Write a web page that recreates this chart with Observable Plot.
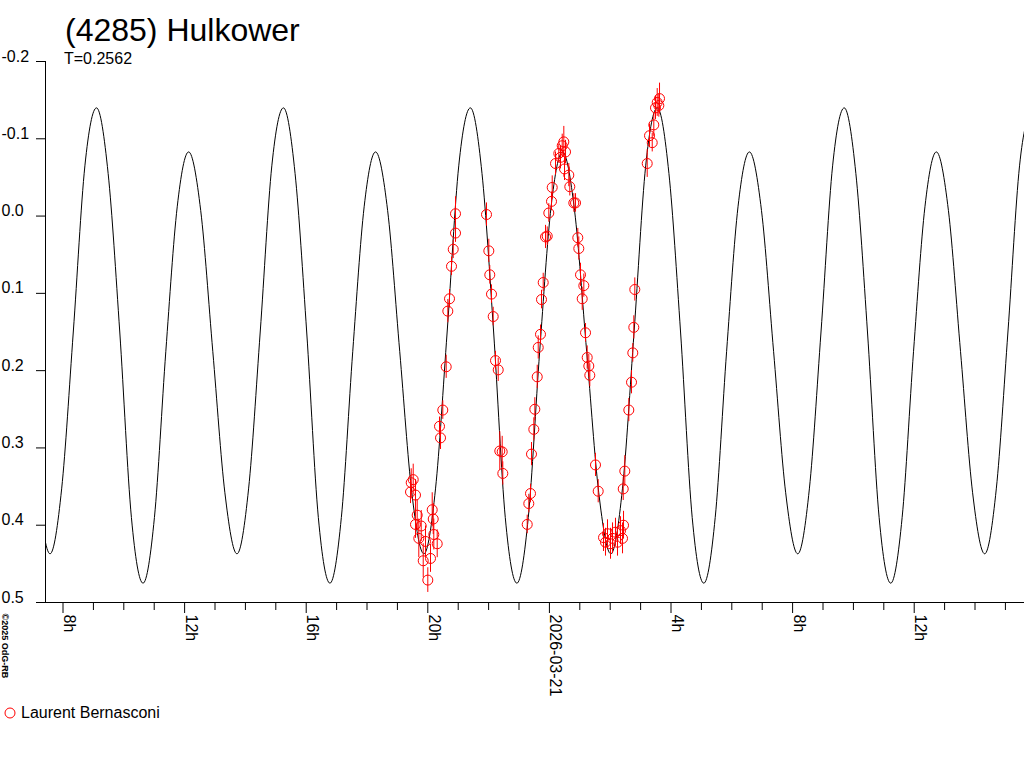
<!DOCTYPE html>
<html><head><meta charset="utf-8">
<script src="https://cdn.jsdelivr.net/npm/d3@7"></script>
<script src="https://cdn.jsdelivr.net/npm/@observablehq/plot@0.6"></script>
<style>
html,body{margin:0;padding:0;background:#fff;}
#wrap{position:relative;width:1024px;height:768px;overflow:hidden;font-family:"Liberation Sans",Arial,sans-serif;color:#000;background:#fff;}
#chart{position:absolute;left:0;top:0;}
#title{position:absolute;left:65px;top:14px;font-size:32px;line-height:32px;white-space:nowrap;}
#subtitle{position:absolute;left:64px;top:51px;font-size:16px;line-height:16px;white-space:nowrap;}
#legend-mark{position:absolute;left:4px;top:707px;}
#legend-text{position:absolute;left:21px;top:705px;font-size:16px;line-height:16px;white-space:nowrap;}
</style></head>
<body>
<div id="wrap">
  <div id="chart"></div>
  <div id="title"></div>
  <div id="subtitle"></div>
  <svg id="legend-mark" width="12" height="12"><circle cx="6" cy="6" r="5" fill="none" stroke="#ff0000" stroke-width="1"/></svg>
  <div id="legend-text"></div>
</div>
<script>
// ---- text ----
const titleText = "(4285) Hulkower";
const subtitleText = "T=0.2562";
const observers = ["Laurent Bernasconi"];
const copyrightText = "©2025 OdG-RB";

// ---- axes (hours since 2026-03-20 00:00 UT) ----
const xDomainHours = [7.424, 39.628];
const majorTickHours = [8, 12, 16, 20, 24, 28, 32, 36];
const majorTickLabels = ["8h", "12h", "16h", "20h", "2026-03-21", "4h", "8h", "12h"];
const minorTickHours = [9, 10, 11, 13, 14, 15, 17, 18, 19, 21, 22, 23, 25, 26, 27, 29, 30, 31, 33, 34, 35, 37, 38, 39];
const yTicks = [-0.2, -0.1, 0, 0.1, 0.2, 0.3, 0.4, 0.5];
const yTickLabels = ["-0.2", "-0.1", "0.0", "0.1", "0.2", "0.3", "0.4", "0.5"];

// ---- observations (Laurent Bernasconi) ----
const obsHours = [19.454, 19.520, 19.431, 19.595, 19.651, 19.595, 19.783, 19.704, 19.924, 19.849, 20.089, 20.000, 20.145, 20.178, 20.197, 20.309, 20.385, 20.418, 20.493, 20.605, 20.658, 20.714, 20.780, 20.836, 20.911, 20.911,
  21.931, 22.007, 22.039, 22.095, 22.151, 22.227, 22.316, 22.368, 22.447, 22.467,
  23.270, 23.322, 23.378, 23.411, 23.487, 23.520, 23.599, 23.632, 23.707, 23.740, 23.796, 23.872, 23.928, 23.980, 24.069, 24.092, 24.201, 24.309, 24.365, 24.421, 24.474, 24.530, 24.497, 24.638, 24.671, 24.803, 24.859, 24.934, 24.967, 25.023, 25.132, 25.079, 25.188, 25.243, 25.296, 25.329, 25.516, 25.605,
  25.780, 25.911, 26.076, 26.174, 26.339, 26.438, 26.405, 26.010, 25.845, 26.240,
  26.480, 26.428, 26.612, 26.701, 26.743, 26.776, 26.809, 27.217, 27.293, 27.382, 27.434, 27.490, 27.546, 27.599, 27.622];
const obsMag = [0.345, 0.341, 0.357, 0.361, 0.387, 0.399, 0.401, 0.417, 0.421, 0.446, 0.443, 0.471, 0.380, 0.392, 0.412, 0.424, 0.272, 0.287, 0.251, 0.195, 0.123, 0.107, 0.065, 0.043, 0.022, -0.003,
  -0.002, 0.045, 0.076, 0.101, 0.130, 0.187, 0.199, 0.304, 0.305, 0.333,
  0.399, 0.372, 0.359, 0.308, 0.276, 0.250, 0.208, 0.170, 0.153, 0.108, 0.086, 0.027, 0.026, -0.004, -0.019, -0.037, -0.068, -0.081, -0.076, -0.091, -0.096, -0.083, -0.061, -0.053, -0.038, -0.017, -0.017, 0.028, 0.042, 0.076, 0.090, 0.107, 0.151, 0.183, 0.194, 0.206, 0.322, 0.356,
  0.416, 0.411, 0.417, 0.409, 0.407, 0.400, 0.417, 0.424, 0.422, 0.422,
  0.330, 0.353, 0.251, 0.215, 0.177, 0.144, 0.095, -0.068, -0.104, -0.095, -0.118, -0.140, -0.147, -0.143, -0.152];
const obsErr = [0.018, 0.02, 0.015, 0.02, 0.02, 0.018, 0.02, 0.025, 0.02, 0.022, 0.018, 0.016, 0.022, 0.02, 0.02, 0.018, 0.012, 0.015, 0.012, 0.015, 0.015, 0.012, 0.012, 0.012, 0.012, 0.022,
  0.015, 0.015, 0.012, 0.012, 0.012, 0.012, 0.015, 0.025, 0.02, 0.015,
  0.012, 0.012, 0.012, 0.015, 0.015, 0.015, 0.015, 0.015, 0.012, 0.012, 0.012, 0.015, 0.012, 0.012, 0.012, 0.015, 0.015, 0.012, 0.015, 0.015, 0.02, 0.015, 0.015, 0.015, 0.012, 0.012, 0.012, 0.012, 0.015, 0.015, 0.015, 0.015, 0.012, 0.015, 0.015, 0.015, 0.015, 0.015,
  0.018, 0.018, 0.02, 0.018, 0.018, 0.018, 0.02, 0.02, 0.018, 0.018,
  0.02, 0.015, 0.015, 0.015, 0.012, 0.015, 0.015, 0.018, 0.015, 0.012, 0.015, 0.015, 0.018, 0.015, 0.02];

// ---- fitted lightcurve ----
const curveHours = [7.176, 7.573, 7.955, 8.338, 8.720,
  9.102, 9.485, 9.867, 10.250, 10.632, 11.007, 11.382, 11.757, 12.132, 12.530, 12.927, 13.325, 13.722, 14.104, 14.487, 14.869,
  15.251, 15.634, 16.016, 16.399, 16.781, 17.156, 17.531, 17.906, 18.281, 18.679, 19.076, 19.474, 19.871, 20.253, 20.636, 21.018,
  21.400, 21.783, 22.165, 22.548, 22.930, 23.305, 23.680, 24.055, 24.430, 24.828, 25.225, 25.623, 26.020, 26.402, 26.785, 27.167,
  27.549, 27.932, 28.314, 28.697, 29.079, 29.454, 29.829, 30.204, 30.579, 30.977, 31.374, 31.772, 32.169, 32.551, 32.934, 33.316,
  33.698, 34.081, 34.463, 34.846, 35.228, 35.603, 35.978, 36.353, 36.728, 37.126, 37.523, 37.921, 38.318, 38.700, 39.083, 39.465, 39.847];
const curveMag = [0.358, 0.437, 0.353, 0.150, -0.065,
  -0.140, -0.055, 0.150, 0.390, 0.475, 0.390, 0.175, -0.012, -0.083, -0.007, 0.175, 0.358, 0.437, 0.353, 0.150, -0.065,
  -0.140, -0.055, 0.150, 0.390, 0.475, 0.390, 0.175, -0.012, -0.083, -0.007, 0.175, 0.358, 0.437, 0.353, 0.150, -0.065,
  -0.140, -0.055, 0.150, 0.390, 0.475, 0.390, 0.175, -0.012, -0.083, -0.007, 0.175, 0.358, 0.437, 0.353, 0.150, -0.065,
  -0.140, -0.055, 0.150, 0.390, 0.475, 0.390, 0.175, -0.012, -0.083, -0.007, 0.175, 0.358, 0.437, 0.353, 0.150, -0.065,
  -0.140, -0.055, 0.150, 0.390, 0.475, 0.390, 0.175, -0.012, -0.083, -0.007, 0.175, 0.358, 0.437, 0.353, 0.150, -0.065, -0.140];

// ---- build tables ----
const base = Date.UTC(2026, 2, 20);
const toDate = h => new Date(base + h * 3600000);
const obs = obsHours.map((h, i) => ({date: toDate(h), mag: obsMag[i], err: obsErr[i] ?? 0.015}));
const curve = curveHours.map((h, i) => ({date: toDate(h), mag: curveMag[i]}));
const majorDates = majorTickHours.map(toDate);
const minorDates = minorTickHours.map(toDate);
const x0 = toDate(xDomainHours[0]), x1 = toDate(xDomainHours[1]);

document.getElementById("title").textContent = titleText;
document.getElementById("subtitle").textContent = subtitleText;
document.getElementById("legend-text").textContent = observers[0];

const chart = Plot.plot({
  width: 1024,
  height: 700,
  marginLeft: 45,
  marginRight: 0,
  marginTop: 61,
  marginBottom: 98,
  style: {fontFamily: '"Liberation Sans", Arial, sans-serif', fontSize: "16px", background: "white", color: "black", overflow: "visible"},
  x: {type: "utc", domain: [x0, x1], axis: null},
  y: {domain: [-0.2, 0.5], reverse: true, axis: null},
  marks: [
    Plot.line(curve, {x: "date", y: "mag", curve: "monotone-x", stroke: "black", strokeWidth: 1, clip: true}),
    Plot.ruleX(obs, {x: "date", y1: d => d.mag - d.err, y2: d => d.mag + d.err, stroke: "#ff0000", strokeWidth: 1}),
    Plot.dot(obs, {x: "date", y: "mag", r: 5, stroke: "#ff0000", fill: "none", strokeWidth: 1}),
    Plot.ruleX([x0], {y1: () => -0.2, y2: () => 0.5, stroke: "black"}),
    Plot.ruleY([0.5], {x1: () => x0, x2: () => x1, stroke: "black"}),
    Plot.axisY(yTicks, {tickSize: 9, fill: "none", label: null, stroke: "black"}),
    Plot.text(yTicks, {y: d => d, frameAnchor: "left", text: (d, i) => yTickLabels[i], textAnchor: "start", lineAnchor: "bottom", dx: -44, dy: 0, fontSize: 16, fill: "black"}),
    Plot.axisX(majorDates, {tickSize: 11, fill: "none", label: null, stroke: "black"}),
    Plot.axisX(minorDates, {tickSize: 8, fill: "none", label: null, stroke: "black"}),
    Plot.text(majorDates, {x: d => d, frameAnchor: "bottom", text: (d, i) => majorTickLabels[i], rotate: 90, textAnchor: "start", lineAnchor: "bottom", dx: 1, dy: 12, fontSize: 16, fill: "black"}),
    Plot.text([copyrightText], {frameAnchor: "bottom-left", text: d => d, rotate: 90, textAnchor: "start", lineAnchor: "bottom", dx: -44, dy: 11, fontSize: 9, fontWeight: "bold", fill: "black"})
  ]
});
document.getElementById("chart").appendChild(chart);
</script>
</body></html>
